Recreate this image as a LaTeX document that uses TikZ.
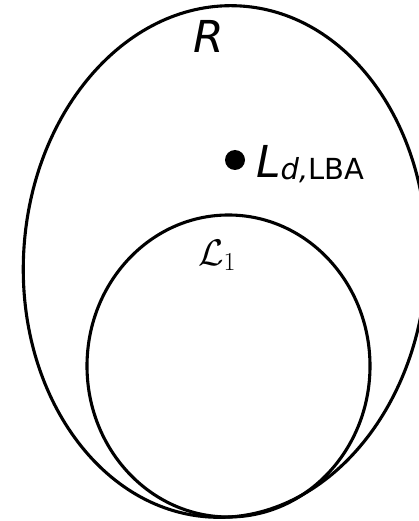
\RequirePackage{fix-cm}
\documentclass[tikz,border=0pt]{standalone}
\usepackage{fontspec}
\setmainfont{DejaVu Sans}
\begin{document}
\begin{tikzpicture}[x=1pt,y=-1pt,
  curve/.style={draw=black,line width=3.1pt},
  bigtxt/.style={font=\fontsize{44}{44}\selectfont\itshape,inner sep=0pt}]
\useasboundingbox (0,0) rectangle (419,521);
\draw[curve,rotate around={-3.5:(225,261.5)}] (225,261.5) ellipse [x radius=201.5, y radius=256];
\draw[curve] (228.5,366) ellipse [x radius=141.5, y radius=151];
\fill (235,160) circle [radius=10];
\node[bigtxt,anchor=base] (R) at (209,53) {R};
\node[bigtxt,anchor=base west] (L) at (256,178) {L\raisebox{-2pt}{\fontsize{29}{29}\selectfont\itshape d,\upshape LBA}};
\node[inner sep=0pt,anchor=base west] (L1) at (198,265) {\fontsize{37}{37}\selectfont$\mathcal{L}_1$};
\end{tikzpicture}
\end{document}
